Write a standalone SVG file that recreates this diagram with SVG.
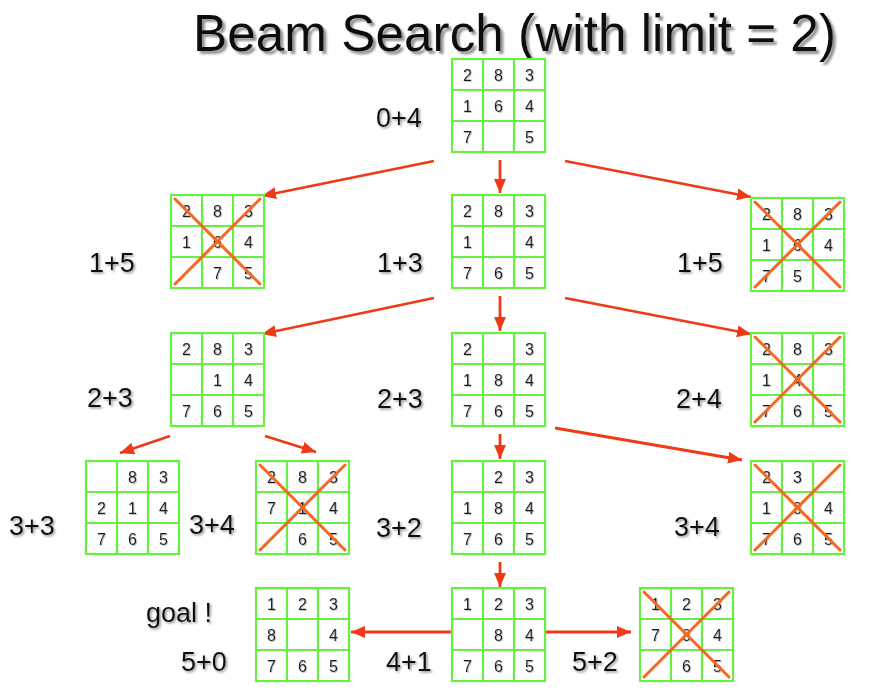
<svg xmlns="http://www.w3.org/2000/svg" xmlns:xlink="http://www.w3.org/1999/xlink" width="870" height="690" viewBox="0 0 870 690">
<style>
.grid{fill:#fff;stroke:#66f044;stroke-width:2.2}
.gl{fill:none;stroke:#66f044;stroke-width:2.2}
.num{font-family:"Liberation Sans",Arial,sans-serif;font-size:16px;fill:#1a1a1a;text-anchor:middle;filter:url(#ns)}
.lab{font-family:"Liberation Sans",Arial,sans-serif;font-size:27px;fill:#111;filter:url(#ds)}
.title{font-family:"Liberation Sans",Arial,sans-serif;font-size:52px;fill:#111;filter:url(#ts)}
.cross{fill:none;stroke:#f26a21;stroke-width:3;stroke-linecap:round}
.arr{fill:none;stroke:#ee3a17;stroke-width:2.8;marker-end:url(#ah)}
</style>
<defs>
<filter id="ts" x="-5%" y="-20%" width="110%" height="150%"><feDropShadow dx="3" dy="3" stdDeviation="1.2" flood-color="#888" flood-opacity="0.9"/></filter>
<filter id="ds" x="-10%" y="-20%" width="130%" height="150%"><feDropShadow dx="1.5" dy="1.5" stdDeviation="1" flood-color="#777" flood-opacity="0.8"/></filter>
<filter id="ns" x="-30%" y="-30%" width="160%" height="160%"><feDropShadow dx="0.8" dy="0.8" stdDeviation="0.6" flood-color="#999" flood-opacity="0.7"/></filter>
<marker id="ah" markerUnits="userSpaceOnUse" markerWidth="15" markerHeight="13" refX="14" refY="6.5" orient="auto"><path d="M0,0.5 L14,6.5 L0,12.5 z" fill="#ee3a17"/></marker>
<g id="g"><rect class="grid" x="0" y="0" width="93" height="93"/><path class="gl" d="M31,0V93M62,0V93M0,31H93M0,62H93"/></g>
<path id="x" class="cross" d="M4,4L89,89M89,4L4,89"/>
</defs>
<rect width="870" height="690" fill="#fff"/>
<text class="title" x="193" y="51" textLength="643" lengthAdjust="spacingAndGlyphs">Beam Search (with limit = 2)</text>

<g id="connectors">
<line class="arr" x1="434" y1="161" x2="262" y2="196"/>
<line class="arr" x1="500" y1="160" x2="500" y2="193"/>
<line class="arr" x1="565" y1="161" x2="751" y2="197"/>
<line class="arr" x1="434" y1="298" x2="262" y2="334"/>
<line class="arr" x1="500" y1="296" x2="500" y2="331"/>
<line class="arr" x1="565" y1="298" x2="751" y2="334"/>
<line class="arr" x1="170" y1="436" x2="120" y2="453"/>
<line class="arr" x1="265" y1="436" x2="316" y2="452"/>
<line class="arr" x1="500" y1="434" x2="500" y2="459"/>
<line class="arr" x1="555" y1="428" x2="742" y2="460"/>
<line class="arr" x1="500" y1="562" x2="500" y2="587"/>
<line class="arr" x1="452" y1="632" x2="351" y2="632"/>
<line class="arr" x1="546" y1="632" x2="631" y2="632"/>
</g>

<g id="n0" transform="translate(452,59)"><use href="#g"/>
<text class="num" x="15.5" y="21.5">2</text><text class="num" x="46.5" y="21.5">8</text><text class="num" x="77.5" y="21.5">3</text>
<text class="num" x="15.5" y="52.5">1</text><text class="num" x="46.5" y="52.5">6</text><text class="num" x="77.5" y="52.5">4</text>
<text class="num" x="15.5" y="83.5">7</text><text class="num" x="77.5" y="83.5">5</text></g>
<text class="lab" x="376" y="127">0+4</text>

<g id="n1L" transform="translate(171,195)"><use href="#g"/>
<text class="num" x="15.5" y="21.5">2</text><text class="num" x="46.5" y="21.5">8</text><text class="num" x="77.5" y="21.5">3</text>
<text class="num" x="15.5" y="52.5">1</text><text class="num" x="46.5" y="52.5">6</text><text class="num" x="77.5" y="52.5">4</text>
<text class="num" x="46.5" y="83.5">7</text><text class="num" x="77.5" y="83.5">5</text><use href="#x"/></g>
<text class="lab" x="89" y="272">1+5</text>

<g id="n1M" transform="translate(452,195)"><use href="#g"/>
<text class="num" x="15.5" y="21.5">2</text><text class="num" x="46.5" y="21.5">8</text><text class="num" x="77.5" y="21.5">3</text>
<text class="num" x="15.5" y="52.5">1</text><text class="num" x="77.5" y="52.5">4</text>
<text class="num" x="15.5" y="83.5">7</text><text class="num" x="46.5" y="83.5">6</text><text class="num" x="77.5" y="83.5">5</text></g>
<text class="lab" x="377" y="272">1+3</text>

<g id="n1R" transform="translate(751,198)"><use href="#g"/>
<text class="num" x="15.5" y="21.5">2</text><text class="num" x="46.5" y="21.5">8</text><text class="num" x="77.5" y="21.5">3</text>
<text class="num" x="15.5" y="52.5">1</text><text class="num" x="46.5" y="52.5">6</text><text class="num" x="77.5" y="52.5">4</text>
<text class="num" x="15.5" y="83.5">7</text><text class="num" x="46.5" y="83.5">5</text><use href="#x"/></g>
<text class="lab" x="677" y="272">1+5</text>

<g id="n2L" transform="translate(171,333)"><use href="#g"/>
<text class="num" x="15.5" y="21.5">2</text><text class="num" x="46.5" y="21.5">8</text><text class="num" x="77.5" y="21.5">3</text>
<text class="num" x="46.5" y="52.5">1</text><text class="num" x="77.5" y="52.5">4</text>
<text class="num" x="15.5" y="83.5">7</text><text class="num" x="46.5" y="83.5">6</text><text class="num" x="77.5" y="83.5">5</text></g>
<text class="lab" x="87" y="407">2+3</text>

<g id="n2M" transform="translate(452,333)"><use href="#g"/>
<text class="num" x="15.5" y="21.5">2</text><text class="num" x="77.5" y="21.5">3</text>
<text class="num" x="15.5" y="52.5">1</text><text class="num" x="46.5" y="52.5">8</text><text class="num" x="77.5" y="52.5">4</text>
<text class="num" x="15.5" y="83.5">7</text><text class="num" x="46.5" y="83.5">6</text><text class="num" x="77.5" y="83.5">5</text></g>
<text class="lab" x="377" y="408">2+3</text>

<g id="n2R" transform="translate(751,333)"><use href="#g"/>
<text class="num" x="15.5" y="21.5">2</text><text class="num" x="46.5" y="21.5">8</text><text class="num" x="77.5" y="21.5">3</text>
<text class="num" x="15.5" y="52.5">1</text><text class="num" x="46.5" y="52.5">4</text>
<text class="num" x="15.5" y="83.5">7</text><text class="num" x="46.5" y="83.5">6</text><text class="num" x="77.5" y="83.5">5</text><use href="#x"/></g>
<text class="lab" x="676" y="408">2+4</text>

<g id="n3a" transform="translate(86,461)"><use href="#g"/>
<text class="num" x="46.5" y="21.5">8</text><text class="num" x="77.5" y="21.5">3</text>
<text class="num" x="15.5" y="52.5">2</text><text class="num" x="46.5" y="52.5">1</text><text class="num" x="77.5" y="52.5">4</text>
<text class="num" x="15.5" y="83.5">7</text><text class="num" x="46.5" y="83.5">6</text><text class="num" x="77.5" y="83.5">5</text></g>
<text class="lab" x="9" y="535">3+3</text>

<g id="n3b" transform="translate(256,461)"><use href="#g"/>
<text class="num" x="15.5" y="21.5">2</text><text class="num" x="46.5" y="21.5">8</text><text class="num" x="77.5" y="21.5">3</text>
<text class="num" x="15.5" y="52.5">7</text><text class="num" x="46.5" y="52.5">1</text><text class="num" x="77.5" y="52.5">4</text>
<text class="num" x="46.5" y="83.5">6</text><text class="num" x="77.5" y="83.5">5</text><use href="#x"/></g>
<text class="lab" x="189" y="534">3+4</text>

<g id="n3M" transform="translate(452,461)"><use href="#g"/>
<text class="num" x="46.5" y="21.5">2</text><text class="num" x="77.5" y="21.5">3</text>
<text class="num" x="15.5" y="52.5">1</text><text class="num" x="46.5" y="52.5">8</text><text class="num" x="77.5" y="52.5">4</text>
<text class="num" x="15.5" y="83.5">7</text><text class="num" x="46.5" y="83.5">6</text><text class="num" x="77.5" y="83.5">5</text></g>
<text class="lab" x="376" y="537">3+2</text>

<g id="n3R" transform="translate(751,461)"><use href="#g"/>
<text class="num" x="15.5" y="21.5">2</text><text class="num" x="46.5" y="21.5">3</text>
<text class="num" x="15.5" y="52.5">1</text><text class="num" x="46.5" y="52.5">8</text><text class="num" x="77.5" y="52.5">4</text>
<text class="num" x="15.5" y="83.5">7</text><text class="num" x="46.5" y="83.5">6</text><text class="num" x="77.5" y="83.5">5</text><use href="#x"/></g>
<text class="lab" x="674" y="536">3+4</text>

<g id="n4goal" transform="translate(256,588)"><use href="#g"/>
<text class="num" x="15.5" y="21.5">1</text><text class="num" x="46.5" y="21.5">2</text><text class="num" x="77.5" y="21.5">3</text>
<text class="num" x="15.5" y="52.5">8</text><text class="num" x="77.5" y="52.5">4</text>
<text class="num" x="15.5" y="83.5">7</text><text class="num" x="46.5" y="83.5">6</text><text class="num" x="77.5" y="83.5">5</text></g>
<text class="lab" x="146" y="622">goal !</text>
<text class="lab" x="181" y="671">5+0</text>

<g id="n4M" transform="translate(452,588)"><use href="#g"/>
<text class="num" x="15.5" y="21.5">1</text><text class="num" x="46.5" y="21.5">2</text><text class="num" x="77.5" y="21.5">3</text>
<text class="num" x="46.5" y="52.5">8</text><text class="num" x="77.5" y="52.5">4</text>
<text class="num" x="15.5" y="83.5">7</text><text class="num" x="46.5" y="83.5">6</text><text class="num" x="77.5" y="83.5">5</text></g>
<text class="lab" x="386" y="671">4+1</text>

<g id="n4R" transform="translate(640,588)"><use href="#g"/>
<text class="num" x="15.5" y="21.5">1</text><text class="num" x="46.5" y="21.5">2</text><text class="num" x="77.5" y="21.5">3</text>
<text class="num" x="15.5" y="52.5">7</text><text class="num" x="46.5" y="52.5">8</text><text class="num" x="77.5" y="52.5">4</text>
<text class="num" x="46.5" y="83.5">6</text><text class="num" x="77.5" y="83.5">5</text><use href="#x"/></g>
<text class="lab" x="572" y="671">5+2</text>
</svg>
